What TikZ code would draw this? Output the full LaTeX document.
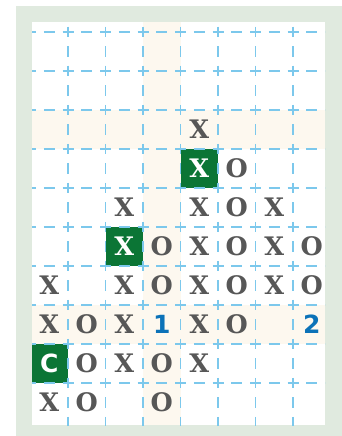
\documentclass[tikz,border=0pt]{standalone}
\usepackage{fontspec}
\newfontfamily\slabfont{DejaVu Serif}
\newfontfamily\sansbfont{DejaVu Sans}
\definecolor{framegreen}{HTML}{E0EADF}
\definecolor{cream}{HTML}{FDF8EF}
\definecolor{gridblue}{HTML}{7CC8EC}
\definecolor{markgray}{HTML}{575757}
\definecolor{boxgreen}{HTML}{0B7535}
\definecolor{numblue}{HTML}{0B72B8}
\begin{document}
\begin{tikzpicture}[x=1pt,y=-1pt,
  xo/.style={inner sep=0pt,text=markgray,font=\slabfont\bfseries\fontsize{25.5}{25.5}\selectfont},
  xow/.style={xo,text=white},
  num/.style={inner sep=0pt,text=numblue,font=\sansbfont\bfseries\fontsize{25}{25}\selectfont},
  cw/.style={inner sep=0pt,text=white,font=\sansbfont\bfseries\fontsize{25}{25}\selectfont},
  hgrid/.style={gridblue,line width=1.6pt,dash pattern=on 11pt off 7.75pt,dash phase=5.5pt},
  vgrid/.style={gridblue,line width=1.6pt,dash pattern=on 10.5pt off 9pt,dash phase=5.25pt}]
\useasboundingbox (0,0) rectangle (342,436);
\fill[framegreen] (16,6) rectangle (342,436);
\fill[white] (32,22) rectangle (325,425);
% cream bands
\fill[cream] (32,110) rectangle (325,149);
\fill[cream] (32,305) rectangle (325,344);
\fill[cream] (143,22) rectangle (180.5,425);
% highlighted cells
\fill[boxgreen] (180.5,149) rectangle (218,188);
\fill[boxgreen] (105.5,227) rectangle (143,266);
\fill[boxgreen] (32,344) rectangle (68,383);
% grid
\begin{scope}
\clip (32,22) rectangle (325,425);
\foreach \k in {0,...,9}{
  \draw[hgrid] (30.5,{32+39*\k}) -- (340,{32+39*\k});
}
\foreach \k in {0,...,6}{
  \draw[vgrid] ({68+37.5*\k},-7) -- ({68+37.5*\k},440);
}
\end{scope}
% marks: columns x = 49.25 + 37.5(c-1), rows y = 51.5 + 39(r-1)
\begin{scope}[xshift=11.75pt,yshift=-12.5pt,x=37.5pt,y=-39pt]
\node[xo] (r3c5) at (5,3) {X};
\node[xow] (r4c5) at (5,4) {X};
\node[xo] (r4c6) at (6,4) {O};
\node[xo] (r5c3) at (3,5) {X};
\node[xo] (r5c5) at (5,5) {X};
\node[xo] (r5c6) at (6,5) {O};
\node[xo] (r5c7) at (7,5) {X};
\node[xow] (r6c3) at (3,6) {X};
\node[xo] (r6c4) at (4,6) {O};
\node[xo] (r6c5) at (5,6) {X};
\node[xo] (r6c6) at (6,6) {O};
\node[xo] (r6c7) at (7,6) {X};
\node[xo] (r6c8) at (8,6) {O};
\node[xo] (r7c1) at (1,7) {X};
\node[xo] (r7c3) at (3,7) {X};
\node[xo] (r7c4) at (4,7) {O};
\node[xo] (r7c5) at (5,7) {X};
\node[xo] (r7c6) at (6,7) {O};
\node[xo] (r7c7) at (7,7) {X};
\node[xo] (r7c8) at (8,7) {O};
\node[xo] (r8c1) at (1,8) {X};
\node[xo] (r8c2) at (2,8) {O};
\node[xo] (r8c3) at (3,8) {X};
\node[num] (r8c4) at (4,8) {1};
\node[xo] (r8c5) at (5,8) {X};
\node[xo] (r8c6) at (6,8) {O};
\node[num] (r8c8) at (8,8) {2};
\node[cw] (r9c1) at (1,9) {C};
\node[xo] (r9c2) at (2,9) {O};
\node[xo] (r9c3) at (3,9) {X};
\node[xo] (r9c4) at (4,9) {O};
\node[xo] (r9c5) at (5,9) {X};
\node[xo] (r10c1) at (1,10) {X};
\node[xo] (r10c2) at (2,10) {O};
\node[xo] (r10c4) at (4,10) {O};
\end{scope}
\end{tikzpicture}
\end{document}
